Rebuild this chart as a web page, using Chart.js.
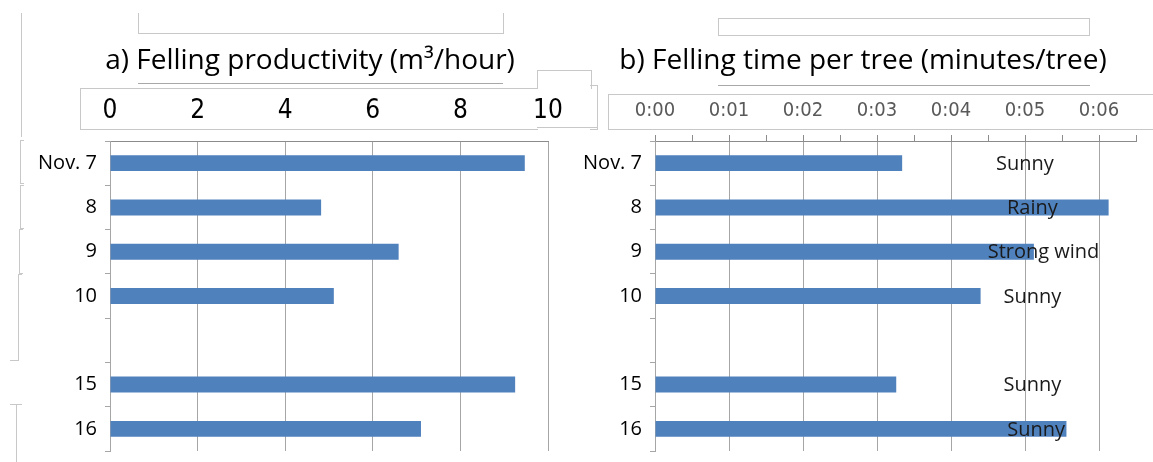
<!DOCTYPE html>
<html lang="en">
<head>
<meta charset="UTF-8">
<title>Felling productivity and felling time</title>
<script src="https://cdn.jsdelivr.net/npm/chart.js"></script>
<style>
  body { margin: 0; background: #fff; width: 1153px; height: 462px; position: relative; overflow: hidden; }
  canvas { position: absolute; top: 0; }
  .ln { position: absolute; border: 0 solid #c8c8c8; }
</style>
</head>
<body>
  <!-- leftover frames from the pasted figure -->
  <div class="ln" style="left:138px;top:13px;width:364px;height:20px;border-width:0 1px 1px 1px;"></div>
  <div class="ln" style="left:138px;top:83px;width:365px;border-top:1px solid #a8a8a8;"></div>
  <div class="ln" style="left:80px;top:88px;width:457px;height:40px;border-width:1px 0 1px 1px;"></div>
  <div class="ln" style="left:537px;top:70px;width:53px;height:18px;border-width:1px 1px 0 1px;"></div>
  <div class="ln" style="left:590px;top:85px;width:7px;height:43px;border-width:1px 1px 1px 0;"></div>
  <div class="ln" style="left:537px;top:127px;width:60px;border-top:1px solid #c8c8c8;"></div>
  <div class="ln" style="left:718px;top:18px;width:370px;height:16px;border-width:1px;"></div>
  <div class="ln" style="left:718px;top:85px;width:372px;border-top:1px solid #a8a8a8;"></div>
  <div class="ln" style="left:608px;top:94px;width:560px;height:34px;border-width:1px 0 1px 1px;"></div>
  <div class="ln" style="left:21px;top:13px;height:124px;border-left-width:1px;"></div>
  <div class="ln" style="left:20px;top:140px;width:3px;height:42px;border-width:1px 0 1px 1px;"></div>
  <div class="ln" style="left:20px;top:185px;width:3px;height:42px;border-width:1px 0 1px 1px;"></div>
  <div class="ln" style="left:19px;top:229px;width:3px;height:43px;border-width:1px 0 1px 1px;"></div>
  <div class="ln" style="left:18px;top:274px;width:3px;height:42px;border-width:1px 0 0 1px;"></div>
  <div class="ln" style="left:10px;top:316px;width:8px;height:44px;border-width:0 1px 1px 0;"></div>
  <div class="ln" style="left:10px;top:404px;width:12px;border-top-width:1px;"></div>
  <div class="ln" style="left:16px;top:404px;height:58px;border-left-width:1px;"></div>

  <canvas id="prodChart" width="620" height="462" style="left:0"></canvas>
  <canvas id="timeChart" width="574" height="462" style="left:576px"></canvas>

  <script>
    const days = ['Nov. 7', '8', '9', '10', '', '15', '16'];
    const productivity = [9.47, 4.82, 6.59, 5.11, null, 9.25, 7.10];   // m3/hour
    const fellingTime = [3.34, 6.13, 5.12, 4.40, null, 3.26, 5.56];    // minutes/tree
    const weather = ['Sunny', 'Rainy', 'Strong wind', 'Sunny', '', 'Sunny', 'Sunny'];
    const weatherAt = [5.0, 5.1, 5.25, 5.1, null, 5.1, 5.15];          // where the note sits on the time axis
    const timeTickLabels = ['0:00', '0:01', '0:02', '0:03', '0:04', '0:05', '0:06'];

    const textFont = "'Open Sans'";
    const tickFont = "'Liberation Sans Narrow', 'DejaVu Sans Condensed', sans-serif";
    const gridGray = '#a6a6a6';

    // titles are centred a bit off the canvas centre, so draw them by hand
    const sideTitle = {
      id: 'sideTitle',
      afterDraw(chart, args, opts) {
        const ctx = chart.ctx;
        ctx.save();
        ctx.font = '28px ' + textFont;
        ctx.fillStyle = '#000';
        ctx.textAlign = 'center';
        ctx.textBaseline = 'middle';
        ctx.fillText(opts.text, opts.x, opts.y);
        ctx.restore();
      }
    };

    const weatherLabels = {
      id: 'weatherLabels',
      afterDatasetsDraw(chart) {
        const { ctx, scales: { x, y } } = chart;
        ctx.save();
        ctx.font = '20px ' + textFont;
        ctx.fillStyle = '#1a1a1a';
        ctx.textAlign = 'center';
        ctx.textBaseline = 'middle';
        weather.forEach((w, i) => {
          if (w) ctx.fillText(w, x.getPixelForValue(weatherAt[i]), y.getPixelForValue(i) + 1);
        });
        ctx.restore();
      }
    };

    function dayAxis(width) {
      return {
        grid: { offset: true, drawOnChartArea: false, tickLength: 5, color: gridGray },
        border: { color: gridGray },
        ticks: { color: '#000', font: { family: textFont, size: 20 }, padding: 8 },
        afterFit: s => { s.width = width; s.paddingTop = 0; s.paddingBottom = 0; }
      };
    }

    new Chart(document.getElementById('prodChart'), {
      type: 'bar',
      data: {
        labels: days,
        datasets: [{ data: productivity, backgroundColor: '#4f81bd', barPercentage: 1, categoryPercentage: 0.36 }]
      },
      plugins: [sideTitle],
      options: {
        indexAxis: 'y',
        responsive: false,
        animation: false,
        layout: { padding: { left: 0, right: 72, top: 75, bottom: 11 } },
        plugins: {
          legend: { display: false },
          tooltip: { enabled: false },
          sideTitle: { text: 'a) Felling productivity (m³/hour)', x: 310, y: 61 }
        },
        scales: {
          x: {
            position: 'top', min: 0, max: 10,
            ticks: { stepSize: 2, color: '#000', font: { family: tickFont, size: 26 }, padding: 14 },
            grid: { color: gridGray, drawTicks: false },
            border: { color: '#8c8c8c' },
            afterFit: s => { s.height = 66; }
          },
          y: dayAxis(110)
        }
      }
    });

    new Chart(document.getElementById('timeChart'), {
      type: 'bar',
      data: {
        labels: days,
        datasets: [{ data: fellingTime, backgroundColor: '#4f81bd', barPercentage: 1, categoryPercentage: 0.36 }]
      },
      plugins: [sideTitle, weatherLabels],
      options: {
        indexAxis: 'y',
        responsive: false,
        animation: false,
        layout: { padding: { left: 0, right: 14, top: 75, bottom: 11 } },
        plugins: {
          legend: { display: false },
          tooltip: { enabled: false },
          sideTitle: { text: 'b) Felling time per tree (minutes/tree)', x: 287, y: 61 }
        },
        scales: {
          x: {
            position: 'top', min: 0, max: 6.5,
            ticks: {
              stepSize: 0.5, autoSkip: false, maxRotation: 0,
              color: '#595959', font: { family: tickFont, size: 20 }, padding: 12,
              callback: v => Number.isInteger(v) ? timeTickLabels[v] : ''
            },
            grid: {
              color: c => Number.isInteger(c.tick && c.tick.value) ? gridGray : 'rgba(0,0,0,0)',
              tickColor: '#8c8c8c', tickLength: 6
            },
            border: { color: '#8c8c8c' },
            afterFit: s => { s.height = 66; }
          },
          y: dayAxis(79)
        }
      }
    });
  </script>
</body>
</html>
